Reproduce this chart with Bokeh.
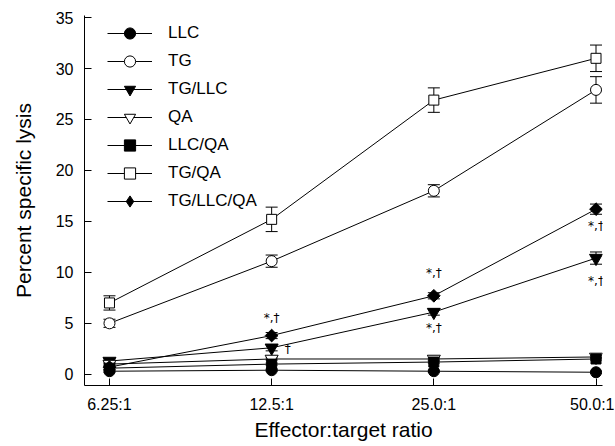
import numpy as np
from bokeh.plotting import figure
from bokeh.models import (ColumnDataSource, Whisker, TeeHead, Legend, LegendItem,
                          FixedTicker, Range1d)
from bokeh.core.properties import value
from bokeh.embed import file_html
from bokeh.resources import INLINE

# ---- data ----
ratios = ["6.25:1", "12.5:1", "25.0:1", "50.0:1"]
xpos = [0, 1, 2, 3]

llc = [0.3, 0.4, 0.3, 0.2]
llc_err = [0.1, 0.1, 0.1, 0.1]
tg = [5.0, 11.1, 18.0, 27.9]
tg_err = [0.4, 0.6, 0.6, 1.3]
tg_llc = [1.3, 2.6, 6.1, 11.4]
tg_llc_err = [0.2, 0.3, 0.3, 0.6]
qa = [1.0, 1.5, 1.5, 1.7]
qa_err = [0.1, 0.1, 0.1, 0.1]
llc_qa = [0.6, 1.0, 1.2, 1.5]
llc_qa_err = [0.1, 0.1, 0.1, 0.1]
tg_qa = [7.0, 15.2, 26.9, 31.0]
tg_qa_err = [0.7, 1.2, 1.2, 1.3]
tg_llc_qa = [0.7, 3.8, 7.7, 16.2]
tg_llc_qa_err = [0.2, 0.3, 0.3, 0.5]

yticks = [0, 5, 10, 15, 20, 25, 30, 35]

ann_idx = [1, 1, 2, 2, 3, 3]
ann_y = [5.5, 2.5, 9.9, 4.5, 14.5, 9.2]
ann_text = ["*,\u2020", "\u2020", "*,\u2020", "*,\u2020", "*,\u2020", "*,\u2020"]
ann_dx = [0, 16, 0, 0, 0, 0]

# name, values, errors, plot marker, fill, size, angle, legend marker
series = [
    ("LLC", llc, llc_err, "circle", "black", 11, 0, None),
    ("TG", tg, tg_err, "circle", "white", 11, 0, None),
    ("TG/LLC", tg_llc, tg_llc_err, "inverted_triangle", "black", 13, 0, None),
    ("QA", qa, qa_err, "inverted_triangle", "white", 13, 0, None),
    ("LLC/QA", llc_qa, llc_qa_err, "square", "black", 10, 0, None),
    ("TG/QA", tg_qa, tg_qa_err, "square", "white", 10, 0, None),
    ("TG/LLC/QA", tg_llc_qa, tg_llc_qa_err, "square", "black", 9, np.pi / 4, "diamond"),
]

FONT = "Liberation Sans"

p = figure(frame_width=518, frame_height=370, output_backend="svg",
           toolbar_location=None,
           x_range=Range1d(-0.154, 3.04), y_range=Range1d(-1.1, 35.2),
           min_border_left=84, min_border_right=12, min_border_top=15,
           min_border_bottom=60)
p.outline_line_color = None
p.grid.visible = False
p.background_fill_color = "white"

# axes
for ax in (p.xaxis[0], p.yaxis[0]):
    ax.axis_line_color = "black"
    ax.major_tick_line_color = "black"
    ax.major_tick_in = 7
    ax.major_tick_out = 0
    ax.minor_tick_line_color = None
    ax.major_label_text_font = FONT
    ax.major_label_text_font_size = "16px"
    ax.major_label_text_color = "black"
    ax.axis_label_text_font = FONT
    ax.axis_label_text_font_size = "21px"
    ax.axis_label_text_font_style = "normal"
    ax.axis_label_text_color = "black"

p.xaxis.ticker = FixedTicker(ticks=xpos)
p.xaxis.major_label_overrides = {x: r for x, r in zip(xpos, ratios)}
p.xaxis.axis_label = "Effector:target ratio"
p.xaxis.major_label_standoff = 10
p.xaxis.axis_label_standoff = 2

p.yaxis.ticker = FixedTicker(ticks=yticks)
p.yaxis.major_label_overrides = {t: str(t) for t in yticks}
p.yaxis.axis_label = "Percent specific lysis"
p.yaxis.major_label_standoff = 11
p.yaxis.axis_label_standoff = 18

legend_items = []
line_rs = []
for name, vals, errs, marker, fill, size, angle, lmarker in series:
    src = ColumnDataSource(dict(
        x=xpos, y=vals,
        upper=[v + e for v, e in zip(vals, errs)],
        lower=[v - e for v, e in zip(vals, errs)],
    ))
    w = Whisker(base="x", upper="upper", lower="lower", source=src,
                line_color="black", line_width=1, level="underlay",
                upper_head=TeeHead(size=12, line_color="black", line_width=1),
                lower_head=TeeHead(size=12, line_color="black", line_width=1))
    p.add_layout(w)
    lr = p.line("x", "y", source=src, line_color="black", line_width=1)
    line_rs.append((name, lr, src, marker, fill, size, angle, lmarker))

for name, lr, src, marker, fill, size, angle, lmarker in line_rs:
    if lmarker is not None:
        # diamond swatch for the legend, hidden beneath the rotated squares
        ls = p.scatter("x", "y", source=src, marker=lmarker, size=8,
                       fill_color=fill, line_color="black", line_width=1)
    sr = p.scatter("x", "y", source=src, marker=marker, size=size, angle=angle,
                   fill_color=fill, line_color="black", line_width=1)
    if lmarker is not None:
        legend_items.append(LegendItem(label=name, renderers=[lr, ls]))
    else:
        legend_items.append(LegendItem(label=name, renderers=[lr, sr]))

# annotations
asrc = ColumnDataSource(dict(x=ann_idx, y=ann_y, t=ann_text, dx=ann_dx))
p.text("x", "y", text="t", x_offset="dx", source=asrc, text_align="center",
       text_baseline="middle", text_font=value("DejaVu Sans"),
       text_font_size="12px", text_color="black")

legend = Legend(items=legend_items, location=(23, 170), orientation="vertical",
                glyph_width=45, glyph_height=28, label_height=28, spacing=0,
                padding=0, margin=0, label_standoff=16,
                label_text_font=FONT, label_text_font_size="17px",
                label_text_color="black",
                border_line_color=None, background_fill_alpha=0)
p.add_layout(legend)

open("out.html", "w").write(file_html(p, INLINE))
